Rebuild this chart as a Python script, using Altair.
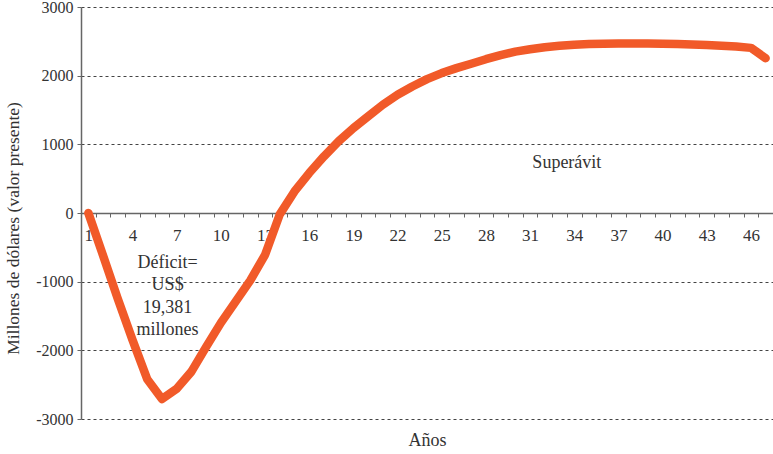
import altair as alt
import pandas as pd

years = list(range(1, 48))
values = [0, -620, -1250, -1850, -2420, -2710, -2560, -2310, -1950, -1600,
          -1290, -980, -610, -20, 314, 582, 824, 1045, 1237, 1406,
          1576, 1722, 1843, 1950, 2038, 2110, 2173, 2240, 2300, 2350,
          2385, 2415, 2435, 2450, 2460, 2465, 2470, 2470, 2470, 2465,
          2460, 2455, 2445, 2435, 2425, 2405, 2255]

ann_year = [34, 6]
ann_value = [730, -728]
ann_text = [["Superávit"], ["Déficit=", "US$", "19,381", "millones"]]
ann_dx = [0, 13]

FONT = "Liberation Serif"
ORANGE = "#F15A29"
TEXT = "#333333"

df = pd.DataFrame({"year": years, "value": values})
ann = pd.DataFrame({"year": ann_year, "value": ann_value, "text": ann_text, "dx": ann_dx})

x_scale = alt.Scale(domain=years, paddingInner=0, paddingOuter=0)
y_scale = alt.Scale(domain=[-3000, 3000], nice=False, zero=False)

line = alt.Chart(df).mark_line(
    color=ORANGE, strokeWidth=8.5, strokeCap="round", strokeJoin="round"
).encode(
    x=alt.X("year:O", scale=x_scale, sort=years,
            axis=alt.Axis(
                title="Años", labelAngle=0, tickBand="extent",
                labelExpr="(datum.value - 1) % 3 == 0 ? datum.label : ''",
                offset=-206, domainColor="#666666", domainWidth=1.5,
                tickColor="#666666", tickSize=4, labelPadding=10,
                labelFont=FONT, labelFontSize=17, labelColor=TEXT,
                titleFont=FONT, titleFontSize=18, titleFontWeight="normal",
                titleColor=TEXT, titleY=227, titleBaseline="middle",
                grid=False)),
    y=alt.Y("value:Q", scale=y_scale,
            axis=alt.Axis(
                title="Millones de dólares (valor presente)",
                values=[-3000, -2000, -1000, 0, 1000, 2000, 3000],
                labelExpr="datum.value + ''",
                domainColor="#666666", domainWidth=1.5,
                tickColor="#666666", tickSize=4, labelPadding=4,
                labelFont=FONT, labelFontSize=16, labelColor=TEXT,
                titleFont=FONT, titleFontSize=17.5, titleFontWeight="normal",
                titleColor=TEXT, titleAngle=-90, titleX=-68, titleY=221,
                titleAlign="center", titleBaseline="middle",
                grid=True, gridDash=[3, 3], gridColor="#444444", gridWidth=1)),
)

text = alt.Chart(ann).mark_text(
    font=FONT, fontSize=18, color=TEXT, lineHeight=22.5, baseline="middle", align="center"
).encode(
    x=alt.X("year:O", scale=x_scale, sort=years),
    y=alt.Y("value:Q", scale=y_scale),
    text="text",
    xOffset=alt.XOffset("dx:Q", scale=None),
)

chart = alt.layer(line, text).properties(
    width=692, height=412,
    autosize=alt.AutoSizeParams(type="none"),
    padding={"left": 81, "top": 7, "right": 0, "bottom": 35},
).configure_view(stroke=None)

chart.save("out.html", embed_options={"renderer": "svg", "actions": False})
